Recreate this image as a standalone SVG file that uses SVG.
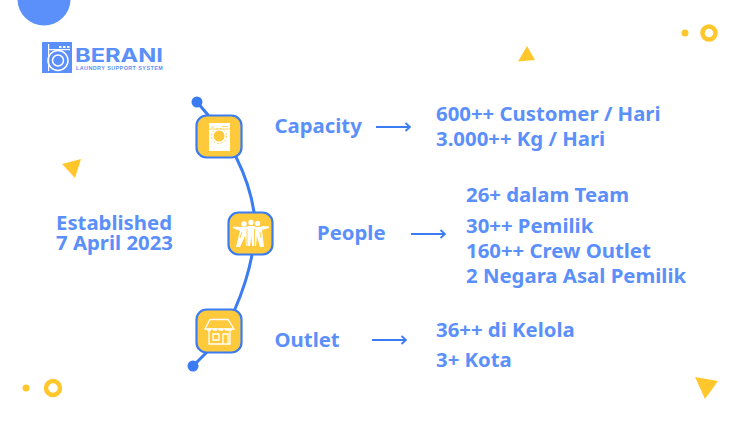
<svg xmlns="http://www.w3.org/2000/svg" width="750" height="422" viewBox="0 0 750 422">
<defs>
<style>
.t{font-family:"Noto Sans","Open Sans","Liberation Sans",sans-serif;font-weight:700;font-size:20.35px;fill:#5b8ff9}
.l{fill:none;stroke:#3b7cf2;stroke-width:3;stroke-linecap:round}
.a{fill:none;stroke:#3b7cf2;stroke-width:1.8}
.box{fill:#ffc93c;stroke:#3b7cf2;stroke-width:2.2}
.w{fill:#fff}
.ws{fill:none;stroke:#fff;stroke-width:1.3}
.y{fill:#ffc72c}
.d{fill:#3b7cf2}
.logo{fill:#5b8ff9}
</style>
<marker id="ah" markerWidth="8" markerHeight="10" refX="7" refY="5" orient="auto" markerUnits="userSpaceOnUse"><path d="M2.500 1L7 5L2.500 9" fill="none" stroke="#3b7cf2" stroke-width="1.800"/></marker>
</defs>
<rect width="750" height="422" fill="#fff"/>
<circle cx="44" cy="-1" r="26.500" fill="#5b8ff9"/>
<g id="logo">
<path class="logo" d="M42 42H72V73H42Z"/>
<circle cx="58" cy="60.500" r="10" fill="none" stroke="#fff" stroke-width="1.500"/>
<circle cx="58" cy="60.500" r="5.500" fill="none" stroke="#fff" stroke-width="1.500"/>
<rect x="48" y="44" width="1.200" height="27" fill="#fff"/>
<rect x="48" y="49" width="22" height="1.200" fill="#fff"/>
<rect x="59" y="46" width="2.500" height="2" fill="#fff"/><rect x="63" y="46" width="2.500" height="2" fill="#fff"/><rect x="67" y="46" width="2.500" height="2" fill="#fff"/>
<text x="75" y="62" font-family="Inter,'Liberation Sans',sans-serif" font-weight="700" font-size="18.500" textLength="88" lengthAdjust="spacingAndGlyphs" fill="#5b8ff9">BERANI</text>
<text x="76" y="69.500" font-family="'Liberation Sans',sans-serif" font-weight="700" font-size="5.400" letter-spacing="0.450" fill="#5b8ff9">LAUNDRY SUPPORT SYSTEM</text>
</g>
<g id="decor">
<path class="y" d="M518 61.500L527 46L535 60Z"/>
<path class="y" d="M62 164L81 159L75 178Z"/>
<path class="y" d="M695 377L718 381L705 399Z"/>
<circle class="y" cx="685" cy="33" r="3.500"/>
<circle cx="709" cy="33" r="6.500" fill="none" stroke="#ffc72c" stroke-width="4.500"/>
<circle class="y" cx="26" cy="388" r="3.500"/>
<circle cx="53" cy="388" r="7" fill="none" stroke="#ffc72c" stroke-width="4.500"/>
</g>
<g id="connectors">
<path class="l" d="M197 102L208 115"/>
<path class="l" d="M236 157C245 175 251 192 254 212"/>
<path class="l" d="M252 255C248 276 242 293 235 309"/>
<path class="l" d="M193 366L206 353"/>
<circle class="d" cx="197" cy="102" r="5.500"/>
<circle class="d" cx="193" cy="366" r="5.500"/>
<path class="a" d="M376 127H410" marker-end="url(#ah)"/>
<path class="a" d="M411 234H445" marker-end="url(#ah)"/>
<path class="a" d="M372 340H406" marker-end="url(#ah)"/>
</g>
<g id="established"><text class="t" x="56" y="230">Established</text><text class="t" x="56" y="250">7 April 2023</text></g>
<g id="capacity">
<rect class="box" x="196.500" y="115.500" width="45" height="42" rx="10"/>
<rect class="w" x="209" y="123" width="21" height="28"/>
<circle cx="219" cy="136" r="5.500" fill="#ffc93c"/>
<circle cx="219" cy="136" r="7.500" fill="none" stroke="#ffc93c" stroke-width="0.800" stroke-dasharray="2 2"/>
<path d="M211 127H214M222 126.500H228M209 129H230" stroke="#ffc93c" stroke-width="0.800" fill="none"/>
<text class="t" x="274.500" y="133">Capacity</text>
</g>
<g id="people">
<rect class="box" x="228.500" y="212.500" width="44" height="42" rx="10"/>
<circle class="w" cx="244" cy="224" r="2.700"/><circle class="w" cx="251" cy="222.500" r="2.700"/><circle class="w" cx="257.500" cy="223.500" r="2.700"/>
<path class="w" d="M233 226.500L240 227L243 227H246L248 226H254L256 227H260L263 226L269 226.500V228L262 230L264 247H260L257 236L256 246H252L251.500 236L250 246H246L245 236L240 247H236L240 231L233 228Z"/>
<path d="M247 229V246M254.500 229V246M242 232L240 238M260 232L261 238" stroke="#ffc93c" stroke-width="0.900" fill="none"/>
<text class="t" x="317" y="240">People</text>
</g>
<g id="outlet">
<rect class="box" x="196.500" y="309.500" width="45" height="43" rx="10"/>
<path class="ws" d="M210 319.500H228L234 329H205ZM209 329V344H230V329M213 334H219V340H213ZM223 334H228V344H223Z"/>
<path d="M207 329.500H232" stroke="#fff" stroke-width="2.500" stroke-dasharray="4 2"/>
<text class="t" x="274.500" y="347">Outlet</text>
</g>
<g id="details">
<text class="t" x="436" y="121">600++ Customer / Hari</text>
<text class="t" x="436" y="146">3.000++ Kg / Hari</text>
<text class="t" x="466" y="201.500">26+ dalam Team</text>
<text class="t" x="466" y="233">30++ Pemilik</text>
<text class="t" x="466" y="258">160++ Crew Outlet</text>
<text class="t" x="466" y="283">2 Negara Asal Pemilik</text>
<text class="t" x="436" y="337">36++ di Kelola</text>
<text class="t" x="436" y="367">3+ Kota</text>
</g>
</svg>
